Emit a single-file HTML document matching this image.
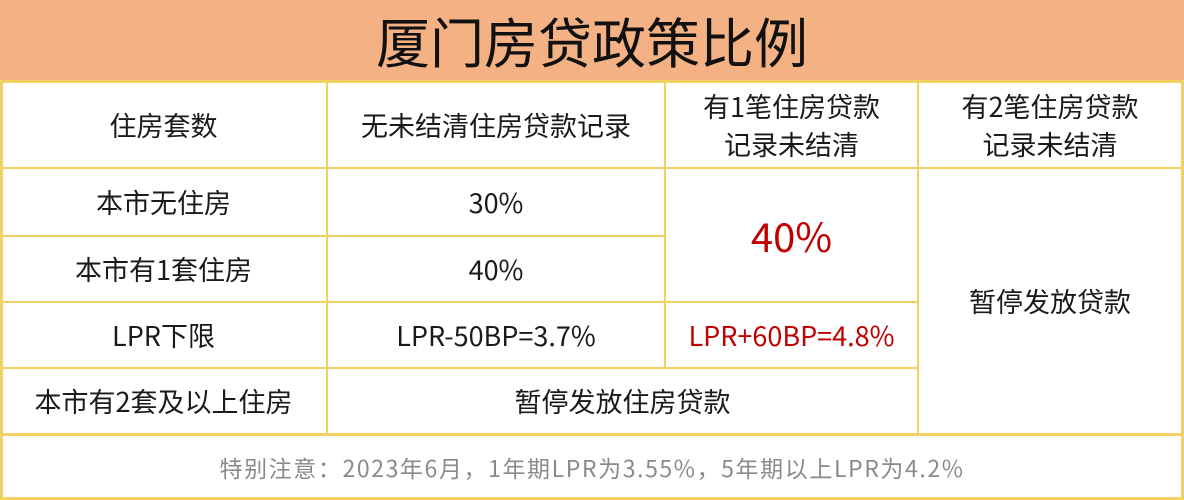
<!DOCTYPE html>
<html><head><meta charset="utf-8"><style>
html,body{margin:0;padding:0;width:1184px;height:500px;overflow:hidden;background:#fff}
body{position:relative;font-family:"Noto Sans CJK SC","Liberation Sans",sans-serif;color:#1a1a1a}
.c{position:absolute;display:flex;align-items:center;justify-content:center;text-align:center;box-sizing:border-box;font-size:27px;line-height:38px}
.h{position:absolute;background:#f2d061}
.v{position:absolute;background:#f2d061}
</style></head><body>
<div class="c" style="left:0;top:0;width:1184px;height:80px;background:#f4b183;font-size:54px;color:#111">厦门房贷政策比例</div>
<div class="h" style="left:0;top:80px;width:1184px;height:3px"></div>
<div class="h" style="left:0;top:167px;width:1184px;height:2px"></div>
<div class="h" style="left:0;top:235px;width:665px;height:2px"></div>
<div class="h" style="left:0;top:301px;width:918px;height:2px"></div>
<div class="h" style="left:0;top:367px;width:918px;height:2px"></div>
<div class="h" style="left:0;top:433px;width:1184px;height:3px"></div>
<div class="h" style="left:0;top:497px;width:1184px;height:3px"></div>
<div class="v" style="left:0;top:80px;width:3px;height:420px"></div>
<div class="v" style="left:1181px;top:80px;width:3px;height:420px"></div>
<div class="v" style="left:326px;top:80px;width:2px;height:354px"></div>
<div class="v" style="left:664px;top:80px;width:2px;height:288px"></div>
<div class="v" style="left:917px;top:80px;width:2px;height:354px"></div>
<div class="c" style="left:0;top:82px;width:327px;height:86px">住房套数</div>
<div class="c" style="left:327px;top:82px;width:338px;height:86px">无未结清住房贷款记录</div>
<div class="c" style="left:665px;top:82px;width:253px;height:86px">有1笔住房贷款<br>记录未结清</div>
<div class="c" style="left:918px;top:82px;width:264px;height:86px">有2笔住房贷款<br>记录未结清</div>
<div class="c" style="left:0;top:168px;width:327px;height:68px">本市无住房</div>
<div class="c" style="left:327px;top:168px;width:338px;height:68px">30%</div>
<div class="c" style="left:0;top:236px;width:327px;height:66px">本市有1套住房</div>
<div class="c" style="left:327px;top:236px;width:338px;height:66px">40%</div>
<div class="c" style="left:665px;top:168px;width:253px;height:134px;color:#c00000;font-size:40px">40%</div>
<div class="c" style="left:0;top:302px;width:327px;height:66px">LPR下限</div>
<div class="c" style="left:327px;top:302px;width:338px;height:66px">LPR-50BP=3.7%</div>
<div class="c" style="left:665px;top:302px;width:253px;height:66px;color:#c00000">LPR+60BP=4.8%</div>
<div class="c" style="left:0;top:368px;width:327px;height:66px">本市有2套及以上住房</div>
<div class="c" style="left:327px;top:368px;width:591px;height:66px">暂停发放住房贷款</div>
<div class="c" style="left:918px;top:168px;width:264px;height:266px">暂停发放贷款</div>
<div class="c" style="left:0;top:435px;width:1184px;height:63px;color:#8a8a8a;font-size:23px;letter-spacing:1.6px">特别注意：2023年6月，1年期LPR为3.55%，5年期以上LPR为4.2%</div>
</body></html>
